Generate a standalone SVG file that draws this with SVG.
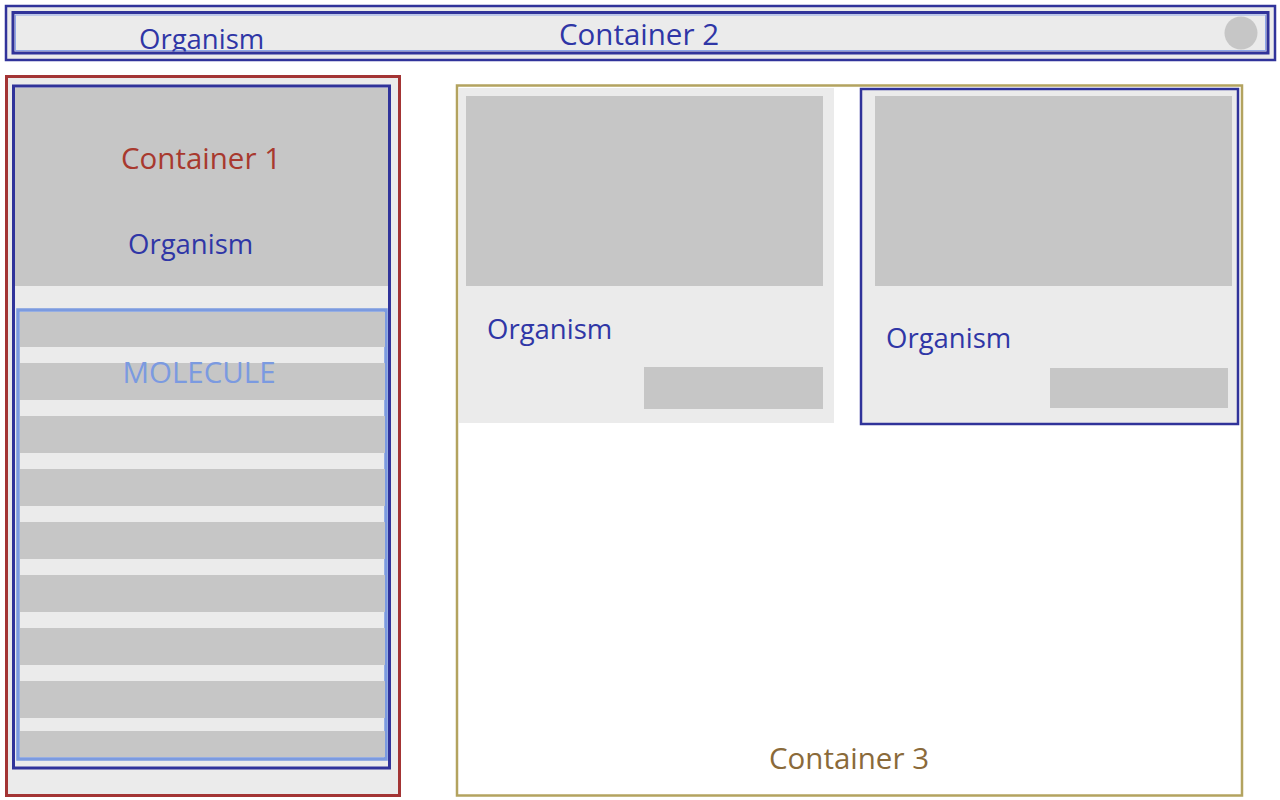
<svg xmlns="http://www.w3.org/2000/svg" width="1280" height="800" viewBox="0 0 1280 800">
<style>
text{font-family:"Open Sans","Noto Sans","Liberation Sans",sans-serif;font-size:27.5px}
.big{font-size:29.5px}
.blue{fill:#2f36a6}
.gray{fill:#c6c6c6}
.light{fill:#ebebeb}
</style>
<defs>
<clipPath id="topclip"><rect x="13" y="12" width="1255" height="39.5"/></clipPath>
</defs>
<rect width="1280" height="800" fill="#ffffff"/>

<g id="container2">
<rect x="6" y="6" width="1269" height="54" fill="#ebebeb" stroke="#30339a" stroke-width="2.5"/>
<rect x="13" y="12.5" width="1255" height="40.5" fill="#ebebeb" stroke="#30339a" stroke-width="3"/>
<rect x="15.5" y="15" width="1250" height="35.5" fill="none" stroke="#8fa6e6" stroke-width="1"/>
<circle cx="1241" cy="33" r="16.5" fill="#c6c6c6"/>
<text x="639" y="45" text-anchor="middle" class="blue big">Container 2</text>
<text x="139" y="49" class="blue" clip-path="url(#topclip)">Organism</text>
</g>

<g id="container1">
<rect x="6.5" y="76.5" width="393" height="719" fill="#ebebeb" stroke="#a33434" stroke-width="3"/>
<g id="organism1">
<rect x="13.5" y="86" width="376" height="682" fill="#ebebeb" stroke="#30339a" stroke-width="3"/>
<rect x="15" y="88" width="373" height="198" class="gray"/>
<text x="201" y="169" text-anchor="middle" fill="#a8392e" class="big">Container 1</text>
<text x="128" y="254" class="blue">Organism</text>
<g id="molecule">
<rect x="18" y="310" width="368" height="449" fill="#ebebeb" stroke="#7b9ae0" stroke-width="3.5"/>
<rect x="20" y="312" width="365" height="35" class="gray"/>
<rect x="20" y="363" width="365" height="37" class="gray"/>
<rect x="20" y="416" width="365" height="37" class="gray"/>
<rect x="20" y="469" width="365" height="37" class="gray"/>
<rect x="20" y="522" width="365" height="37" class="gray"/>
<rect x="20" y="575" width="365" height="37" class="gray"/>
<rect x="20" y="628" width="365" height="37" class="gray"/>
<rect x="20" y="681" width="365" height="37" class="gray"/>
<rect x="20" y="731" width="365" height="26" class="gray"/>
<text x="199" y="383" text-anchor="middle" fill="#7b9ae0" class="big">MOLECULE</text>
</g>
</g>
</g>

<g id="container3">
<rect x="457" y="85.5" width="785" height="710" fill="#ffffff" stroke="#b3a35f" stroke-width="2.5"/>
<g id="card1">
<rect x="459" y="88" width="375" height="335" class="light"/>
<rect x="466" y="96" width="357" height="190" class="gray"/>
<rect x="644" y="367" width="179" height="42" class="gray"/>
<text x="487" y="339" class="blue">Organism</text>
</g>
<g id="card2">
<rect x="861" y="89" width="377" height="335" fill="#ebebeb" stroke="#30339a" stroke-width="2.5"/>
<rect x="875" y="96" width="357" height="190" class="gray"/>
<rect x="1050" y="368" width="178" height="40" class="gray"/>
<text x="886" y="348" class="blue">Organism</text>
</g>
<text x="849" y="769" text-anchor="middle" fill="#8a6a3a" class="big">Container 3</text>
</g>

<g id="connectors"></g>
</svg>
